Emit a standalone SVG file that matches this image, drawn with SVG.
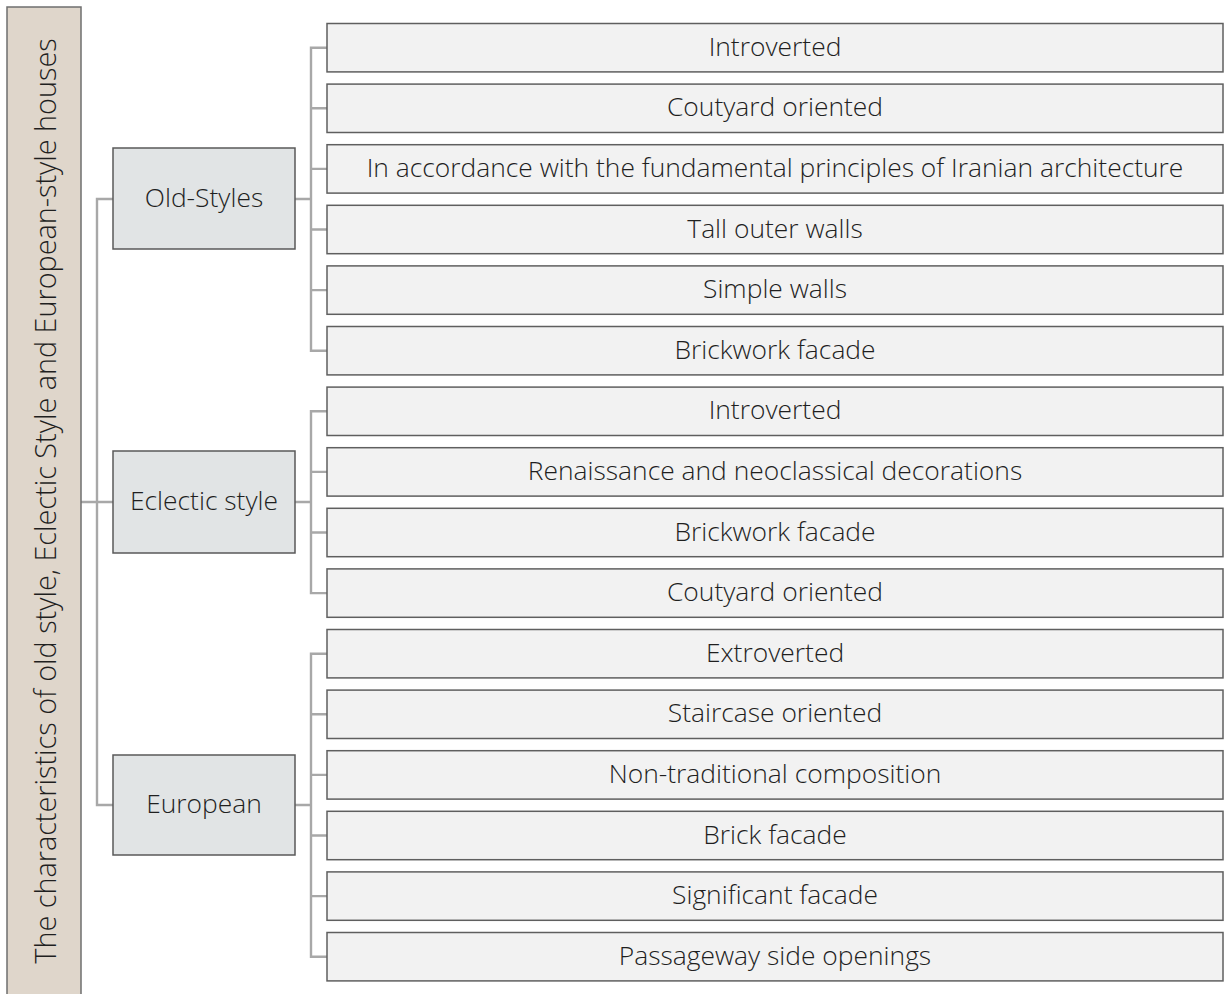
<svg xmlns="http://www.w3.org/2000/svg" width="1224" height="994" viewBox="0 0 1224 994">
  <style>
    .root { fill: #dfd6cb; stroke: #6f6f6f; stroke-width: 1.5; }
    .cat { fill: #e1e4e5; stroke: #595959; stroke-width: 1.5; }
    .leaf { fill: #f2f2f2; stroke: #5f5f5f; stroke-width: 1.5; }
    .lbl { font-family: "Open Sans", "Liberation Sans", sans-serif; font-weight: 300; font-size: 26.4px; fill: #1f1f1f; text-anchor: middle; dominant-baseline: central; }
    .rootlbl { font-size: 28.8px; }
    .conn { fill: none; stroke: #a8a8a8; stroke-width: 2.4; }
  </style>

  <!-- connectors -->
  <g id="connectors" class="conn">
    <!-- root to categories -->
    <path d="M81 502 H97 M113 199 H97 V805 H113 M97 502 H113"/>
    <!-- Old-Styles to its items -->
    <path d="M295 199 H311 M327 47.7 H311 V350.7 H327 M311 108.3 H327 M311 168.9 H327 M311 229.5 H327 M311 290.1 H327"/>
    <!-- Eclectic style to its items -->
    <path d="M295 502 H311 M327 411.3 H311 V593.1 H327 M311 471.9 H327 M311 532.5 H327"/>
    <!-- European to its items -->
    <path d="M295 805 H311 M327 653.7 H311 V956.7 H327 M311 714.3 H327 M311 774.9 H327 M311 835.5 H327 M311 896.1 H327"/>
  </g>

  <!-- root -->
  <g id="root">
    <rect class="root" x="7" y="7" width="74" height="1000"/>
    <text class="lbl rootlbl" transform="translate(44 501) rotate(-90)">The characteristics of old style, Eclectic Style and European-style houses</text>
  </g>

  <!-- categories -->
  <g id="cat-old">
    <rect class="cat" x="113" y="148" width="182" height="101"/>
    <text class="lbl" x="204" y="197">Old-Styles</text>
  </g>
  <g id="cat-eclectic">
    <rect class="cat" x="113" y="451" width="182" height="102"/>
    <text class="lbl" x="204" y="500">Eclectic style</text>
  </g>
  <g id="cat-european">
    <rect class="cat" x="113" y="755" width="182" height="100"/>
    <text class="lbl" x="204" y="803">European</text>
  </g>

  <!-- items -->
  <g id="item-01"><rect class="leaf" x="327" y="23.5" width="896" height="48.4"/><text class="lbl" x="775" y="45.7">Introverted</text></g>
  <g id="item-02"><rect class="leaf" x="327" y="84.1" width="896" height="48.4"/><text class="lbl" x="775" y="106.3">Coutyard oriented</text></g>
  <g id="item-03"><rect class="leaf" x="327" y="144.7" width="896" height="48.4"/><text class="lbl" x="775" y="166.9">In accordance with the fundamental principles of Iranian architecture</text></g>
  <g id="item-04"><rect class="leaf" x="327" y="205.3" width="896" height="48.4"/><text class="lbl" x="775" y="227.5">Tall outer walls</text></g>
  <g id="item-05"><rect class="leaf" x="327" y="265.9" width="896" height="48.4"/><text class="lbl" x="775" y="288.1">Simple walls</text></g>
  <g id="item-06"><rect class="leaf" x="327" y="326.5" width="896" height="48.4"/><text class="lbl" x="775" y="348.7">Brickwork facade</text></g>
  <g id="item-07"><rect class="leaf" x="327" y="387.1" width="896" height="48.4"/><text class="lbl" x="775" y="409.3">Introverted</text></g>
  <g id="item-08"><rect class="leaf" x="327" y="447.7" width="896" height="48.4"/><text class="lbl" x="775" y="469.9">Renaissance and neoclassical decorations</text></g>
  <g id="item-09"><rect class="leaf" x="327" y="508.3" width="896" height="48.4"/><text class="lbl" x="775" y="530.5">Brickwork facade</text></g>
  <g id="item-10"><rect class="leaf" x="327" y="568.9" width="896" height="48.4"/><text class="lbl" x="775" y="591.1">Coutyard oriented</text></g>
  <g id="item-11"><rect class="leaf" x="327" y="629.5" width="896" height="48.4"/><text class="lbl" x="775" y="651.7">Extroverted</text></g>
  <g id="item-12"><rect class="leaf" x="327" y="690.1" width="896" height="48.4"/><text class="lbl" x="775" y="712.3">Staircase oriented</text></g>
  <g id="item-13"><rect class="leaf" x="327" y="750.7" width="896" height="48.4"/><text class="lbl" x="775" y="772.9">Non-traditional composition</text></g>
  <g id="item-14"><rect class="leaf" x="327" y="811.3" width="896" height="48.4"/><text class="lbl" x="775" y="833.5">Brick facade</text></g>
  <g id="item-15"><rect class="leaf" x="327" y="871.9" width="896" height="48.4"/><text class="lbl" x="775" y="894.1">Significant facade</text></g>
  <g id="item-16"><rect class="leaf" x="327" y="932.5" width="896" height="48.4"/><text class="lbl" x="775" y="954.7">Passageway side openings</text></g>
</svg>
